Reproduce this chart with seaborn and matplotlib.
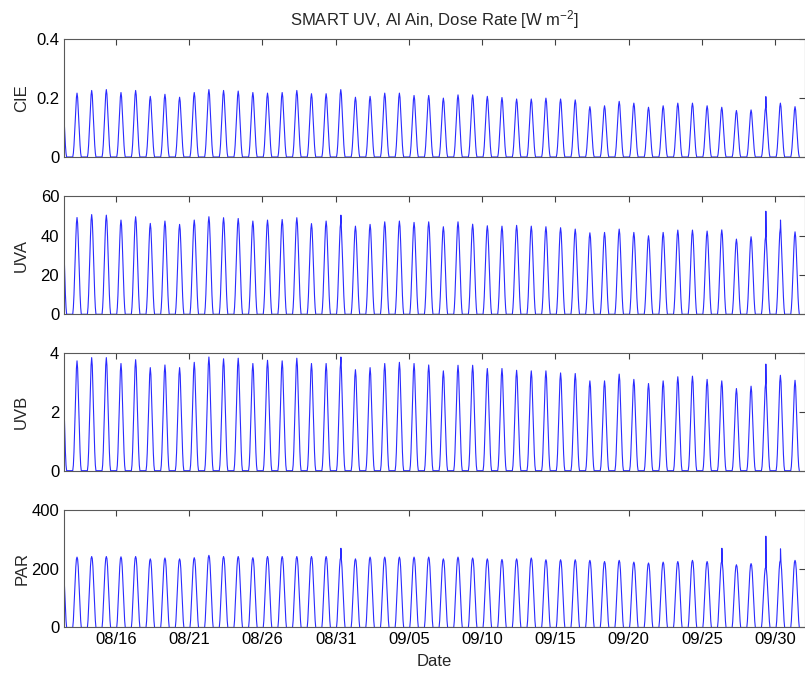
import matplotlib
matplotlib.use("Agg")
import numpy as np
import pandas as pd
import matplotlib.pyplot as plt
import matplotlib.dates as mdates
import seaborn as sns

# ---------------- data ----------------
first_day = "2008-08-12"          # first (partial) day shown; 51 days to 10/01
solar_noon_utc_h = 8.33            # daily maximum time (UTC hours)
profile_offsets_h = [-7, -6, -5, -4, -3, -2, -1, 0, 1, 2, 3, 4, 5, 6, 7]

# normalised diurnal shape (fraction of the daily peak) per quantity
cie_profile = [0, 0.06, 0.18, 0.35, 0.55, 0.75, 0.93, 1.0, 0.93, 0.75, 0.55, 0.35, 0.18, 0.06, 0]
uva_profile = [0, 0.07, 0.20, 0.38, 0.58, 0.78, 0.94, 1.0, 0.94, 0.78, 0.58, 0.38, 0.20, 0.07, 0]
uvb_profile = [0, 0.05, 0.17, 0.34, 0.54, 0.75, 0.93, 1.0, 0.93, 0.75, 0.54, 0.34, 0.17, 0.05, 0]
par_profile = [0, 0.10, 0.28, 0.48, 0.68, 0.86, 0.97, 1.0, 0.97, 0.86, 0.68, 0.48, 0.28, 0.10, 0]

# daily peak values, 08/12 ... 10/01
cie_peak = [0.22, 0.217, 0.226, 0.229, 0.219, 0.226, 0.206, 0.213, 0.203, 0.219, 0.229,
            0.226, 0.224, 0.219, 0.217, 0.219, 0.226, 0.215, 0.215, 0.229, 0.203,
            0.206, 0.217, 0.217, 0.209, 0.209, 0.200, 0.211, 0.211, 0.206, 0.202,
            0.197, 0.197, 0.200, 0.197, 0.194, 0.171, 0.174, 0.189, 0.183, 0.169,
            0.174, 0.183, 0.183, 0.174, 0.169, 0.158, 0.160, 0.170, 0.183, 0.171]
uva_peak = [50.0, 49.3, 50.8, 50.5, 48.0, 49.7, 46.3, 47.5, 45.8, 48.0, 49.7,
            49.2, 48.8, 47.5, 48.0, 48.3, 49.2, 46.2, 47.5, 47.0, 44.9,
            45.8, 47.1, 47.5, 46.8, 47.1, 44.6, 47.1, 45.9, 45.1, 44.9,
            45.3, 44.9, 44.6, 44.1, 43.4, 41.5, 41.7, 43.4, 41.7, 40.0,
            41.7, 42.9, 42.9, 42.4, 43.0, 38.3, 39.5, 40.0, 44.0, 42.0]
uvb_peak = [3.70, 3.73, 3.84, 3.84, 3.64, 3.77, 3.50, 3.59, 3.50, 3.68, 3.86,
            3.80, 3.82, 3.64, 3.75, 3.73, 3.82, 3.64, 3.64, 3.72, 3.43,
            3.50, 3.64, 3.68, 3.64, 3.59, 3.39, 3.58, 3.58, 3.47, 3.47,
            3.41, 3.39, 3.39, 3.32, 3.30, 3.05, 3.05, 3.28, 3.10, 2.96,
            3.05, 3.19, 3.21, 3.10, 3.05, 2.79, 2.87, 3.00, 3.24, 3.07]
par_peak = [240, 239, 241, 241, 240, 241, 233, 236, 233, 237, 245,
            241, 241, 237, 241, 241, 241, 241, 241, 238, 233,
            239, 239, 239, 239, 239, 233, 239, 236, 233, 231,
            233, 236, 230, 230, 230, 228, 224, 228, 222, 219,
            222, 224, 228, 224, 225, 213, 217, 205, 228, 228]

# short cloud-enhancement spikes (day index into the arrays above, value)
cie_spike_day, cie_spike_val = [48], [0.205]
uva_spike_day, uva_spike_val = [19, 48, 49], [50.5, 52.5, 48.0]
uvb_spike_day, uvb_spike_val = [19, 48], [3.86, 3.62]
par_spike_day, par_spike_val = [19, 45, 48, 49], [269, 269, 310, 267]

y_labels = ["CIE", "UVA", "UVB", "PAR"]
y_ticks = [[0, 0.2, 0.4], [0, 20, 40, 60], [0, 2, 4], [0, 200, 400]]
y_ticklabels = [["0", "0.2", "0.4"], ["0", "20", "40", "60"], ["0", "2", "4"], ["0", "200", "400"]]
x_tick_dates = ["2008-08-16", "2008-08-21", "2008-08-26", "2008-08-31", "2008-09-05",
                "2008-09-10", "2008-09-15", "2008-09-20", "2008-09-25", "2008-09-30"]
x_limits = ["2008-08-12 11:00", "2008-10-02 00:00"]
title = "SMART UV, Al Ain, Dose Rate [W m$^{-2}$]"


def build_frame(peaks, profile, spike_days, spike_vals):
    t0 = pd.Timestamp(first_day)
    spikes = dict(zip(spike_days, spike_vals))
    times, vals = [], []
    for d, pk in enumerate(peaks):
        noon = t0 + pd.Timedelta(days=d) + pd.Timedelta(hours=solar_noon_utc_h)
        for off, frac in zip(profile_offsets_h, profile):
            times.append(noon + pd.Timedelta(hours=off))
            vals.append(pk * frac)
            if off == 0 and d in spikes:
                times.append(noon + pd.Timedelta(hours=0.2))
                vals.append(spikes[d])
    return pd.DataFrame({"time": times, "value": vals})


frames = [build_frame(cie_peak, cie_profile, cie_spike_day, cie_spike_val),
          build_frame(uva_peak, uva_profile, uva_spike_day, uva_spike_val),
          build_frame(uvb_peak, uvb_profile, uvb_spike_day, uvb_spike_val),
          build_frame(par_peak, par_profile, par_spike_day, par_spike_val)]

# ---------------- styling ----------------
sns.set_style("white")
plt.rcParams["font.family"] = ["Liberation Sans", "DejaVu Sans"]
plt.rcParams["font.size"] = 12
plt.rcParams["mathtext.default"] = "regular"

fig = plt.figure(figsize=(8.05, 6.75), dpi=100)
left, width, height = 0.0795, 0.9200, 0.1745
bottoms = [0.7674, 0.5344, 0.3027, 0.0704]

xmin, xmax = pd.Timestamp(x_limits[0]), pd.Timestamp(x_limits[1])
tick_pos = [pd.Timestamp(s) for s in x_tick_dates]

for i, (df, lab) in enumerate(zip(frames, y_labels)):
    ax = fig.add_axes([left, bottoms[i], width, height])
    sns.lineplot(data=df, x="time", y="value", ax=ax, color="#2a2aff",
                 linewidth=0.8, sort=False, estimator=None)
    ax.set_xlim(xmin, xmax)
    ax.set_ylim(y_ticks[i][0], y_ticks[i][-1])
    ax.set_yticks(y_ticks[i])
    ax.set_yticklabels(y_ticklabels[i])
    ax.set_xticks(tick_pos)
    ax.xaxis.set_major_formatter(mdates.DateFormatter("%m/%d"))
    ax.tick_params(direction="in", top=True, right=True, length=4,
                   width=0.8, color="0.25", labelsize=12, labelcolor="black")
    for s in ax.spines.values():
        s.set_color("0.35")
        s.set_linewidth(0.8)
    ax.set_ylabel(lab, fontsize=12)
    ax.yaxis.set_label_coords(-0.047, 0.5)
    if i < 3:
        ax.tick_params(labelbottom=False)
        ax.set_xlabel("")
    else:
        ax.set_xlabel("Date", fontsize=12, labelpad=4.5)
    if i == 0:
        ax.set_title(title, fontsize=12, pad=10)

fig.savefig("out.png", dpi=100)
